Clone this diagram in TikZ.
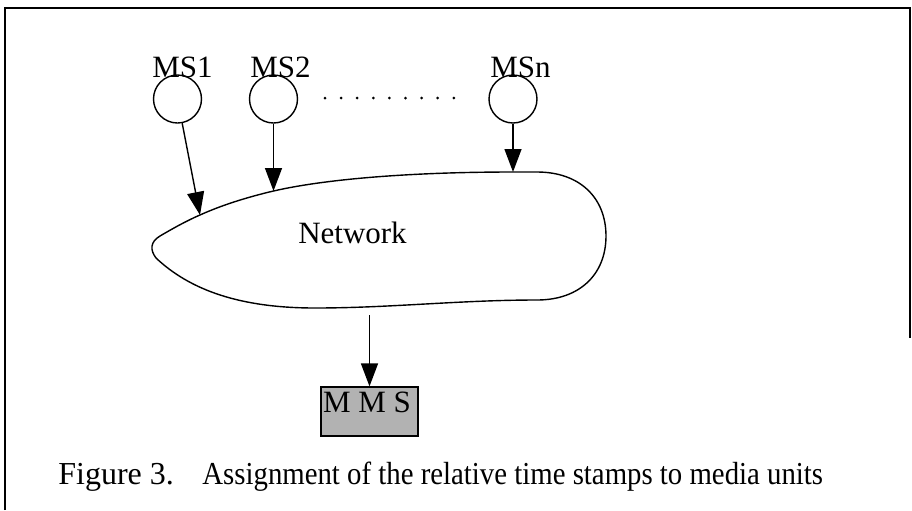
\documentclass[tikz,border=0pt]{standalone}
\usepackage{fontspec}
\setmainfont{Liberation Serif}
\usetikzlibrary{arrows.meta}
\tikzset{
  lbl/.style={font=\fontsize{15.5pt}{18pt}\selectfont, inner sep=0pt, anchor=base},
  src/.style={draw, circle, minimum size=24pt, inner sep=0pt, line width=0.7pt},
  arr/.style={line width=0.7pt, -{Triangle[length=11.5pt,width=8.5pt]}},
  frameline/.style={line width=0.8pt},
  mmsbox/.style={draw, fill=black!30, minimum width=48.5pt, minimum height=24.5pt, inner sep=0pt, line width=0.6pt},
  captext/.style={font=\fontsize{16pt}{19pt}\selectfont, inner sep=0pt, anchor=base west}
}
\begin{document}
\begin{tikzpicture}[x=0.5pt,y=-0.5pt]
\useasboundingbox (0,0) rectangle (912,510);
% frame
\draw[frameline] (5,510) -- (5,8) -- (911,8);
\draw[line width=0.6pt] (910,8) -- (910,338);
% sources
\node[src] (ms1) at (177.5,99) {};
\node[src] (ms2) at (273.5,99) {};
\node[src] (msn) at (513,99) {};
\node[lbl] (l1) at (182.5,77) {MS1};
\node[lbl] (l2) at (280.5,77) {MS2};
\node[lbl] (ln) at (520.5,77) {MSn};
\foreach \i in {0,...,8} \fill (325+\i*16.1,98) circle (0.75pt);
% network blob
\coordinate (t1) at (200,215);
\coordinate (t2) at (273.5,191);
\coordinate (t3) at (513,172);
\coordinate (tip) at (156,258);
\draw[line width=0.7pt] (tip) .. controls (150,250) and (150,242) .. (160,236)
  .. controls (172,229) and (186,221) .. (t1)
  .. controls (222,205) and (248,197) .. (t2)
  .. controls (330,178) and (420,172) .. (t3)
  -- (537,172)
  .. controls (580,172) and (606,198) .. (606,236)
  .. controls (606,274) and (580,300) .. (537,300)
  .. controls (460,300) and (390,308) .. (315,308)
  .. controls (240,308) and (190,290) .. (tip) -- cycle;
\node[lbl] (net) at (352.5,243) {Network};
% arrows in
\draw[arr] (ms1) -- (t1);
\draw[arr] (ms2) -- (t2);
\draw[arr] (msn) -- (t3);
% output
\node[mmsbox] (mms) at (369.5,411.5) {};
\node[lbl] (mmst) at (367,412) {M M S};
\coordinate (out) at (369.5,315);
\draw[arr] (out) -- (mms.north);
% caption
\node[captext] (c1) at (58,484) {Figure 3.};
\node[captext] (c2) at (202,484) {\scalebox{0.9}[1]{Assignment of the relative time stamps to media units}};
\end{tikzpicture}
\end{document}
